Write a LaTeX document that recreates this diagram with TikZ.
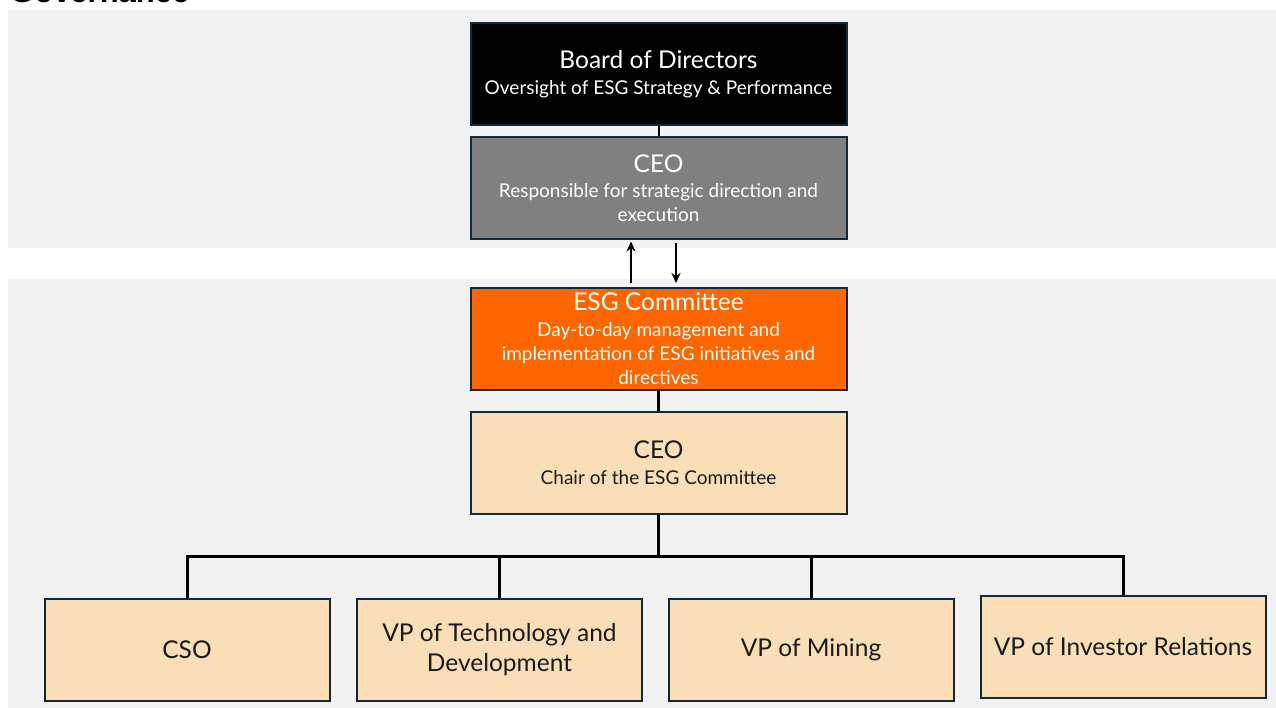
\documentclass[tikz,border=0pt]{standalone}
\usepackage{fontspec}
\setmainfont{Lato}
\newfontfamily\titlefont{Liberation Sans}
\usetikzlibrary{arrows.meta}
\definecolor{panel}{HTML}{F2F2F2}
\definecolor{edge}{HTML}{12293A}
\definecolor{ceogray}{HTML}{808080}
\definecolor{esgorange}{HTML}{FF6600}
\definecolor{peach}{HTML}{FADEB7}
\definecolor{ink}{HTML}{1A1A1A}
\tikzset{
  box/.style={draw=edge, line width=2pt, rectangle, align=center, inner sep=0pt, minimum width=376pt, minimum height=102pt, font=\fontsize{19}{24}\selectfont},
  leaf/.style={draw=edge, line width=2pt, rectangle, align=center, inner sep=0pt, fill=peach, text=ink, minimum width=285pt, minimum height=102pt, font=\fontsize{24.5}{30}\selectfont},
  tree/.style={draw=black, line width=3pt},
  thinline/.style={draw=black, line width=2pt},
  arr/.style={draw=black, line width=2pt, -{Stealth[length=10pt,width=9pt]}},
}
\newcommand{\headtxt}[1]{{\fontsize{24.5}{28}\selectfont #1}}
\begin{document}
\begin{tikzpicture}[x=1pt,y=-1pt]
\useasboundingbox (0,0) rectangle (1276,708);
\fill[panel] (8,10) rectangle (1276,248);
\fill[panel] (8,279) rectangle (1276,708);
\node[anchor=base west, inner sep=0pt, font=\titlefont\bfseries\fontsize{31}{36}\selectfont] (title) at (10,3) {Governance};

\node[box, fill=black, text=white] (board) at (658.5,74.5)
  {\headtxt{Board of Directors}\\[2pt]Oversight of ESG Strategy \& Performance};
\node[box, fill=ceogray, text=white] (ceo) at (658.5,188.5)
  {\headtxt{CEO}\\[1pt]Responsible for strategic direction and\\execution};
\node[box, fill=esgorange, text=white] (esg) at (658.5,339)
  {\headtxt{ESG Committee}\\[2pt]Day-to-day management and\\implementation of ESG initiatives and\\directives};
\node[box, fill=peach, text=ink] (chair) at (658.5,463)
  {\headtxt{CEO}\\[2pt]Chair of the ESG Committee};

\node[leaf] (cso) at (187,649.5) {CSO};
\node[leaf] (tech) at (499.5,649.5) {VP of Technology and\\Development};
\node[leaf] (mining) at (811,649.5) {VP of Mining};
\node[leaf] (ir) at (1123,647) {VP of Investor Relations};

\draw[thinline] (board.south) -- (ceo.north);
\coordinate (upfrom) at ([xshift=-27.5pt, yshift=4pt]esg.north);
\coordinate (upto) at ([xshift=-27.5pt, yshift=-1pt]ceo.south);
\coordinate (downfrom) at ([xshift=17.5pt, yshift=-3pt]ceo.south);
\coordinate (downto) at ([xshift=17.5pt, yshift=4pt]esg.north);
\draw[arr] (upfrom) -- (upto);
\draw[arr] (downfrom) -- (downto);
\draw[tree] (esg.south) -- (chair.north);
\coordinate (junction) at (658.5,556);
\draw[tree] (chair.south) -- (junction);
\draw[tree] (junction) -| (cso.north);
\draw[tree] (junction) -| (tech.north);
\draw[tree] (junction) -| (mining.north);
\draw[tree] (junction) -| (ir.north);
\end{tikzpicture}
\end{document}
